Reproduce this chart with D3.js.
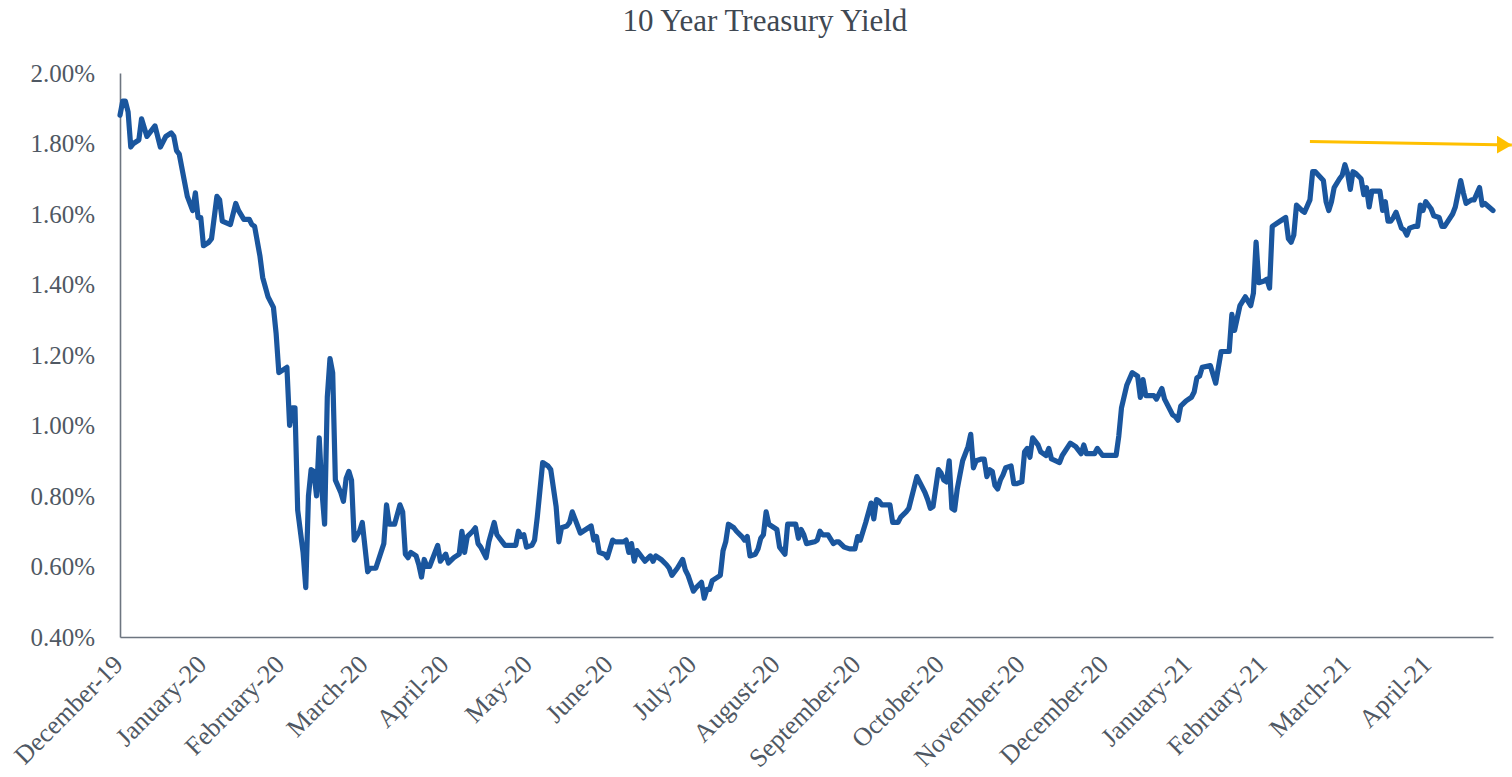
<!DOCTYPE html>
<html lang="en">
<head>
<meta charset="UTF-8">
<title>10 Year Treasury Yield</title>
<script src="https://cdn.jsdelivr.net/npm/d3@7"></script>
<style>
	body { margin: 0; background: #fff; }
	svg { display: block; }
	.title {
		font-family: "Liberation Serif", "Times New Roman", serif;
		font-size: 31px;
		fill: #3f4852;
	}
	.axis text {
		font-family: "Liberation Serif", "Times New Roman", serif;
		fill: #4f5863;
	}
	.y-axis text { font-size: 25px; }
	.x-axis text { font-size: 26px; }
	.axis path.domain { stroke: #6d7580; stroke-width: 1.6; }
	.axis line { display: none; }
</style>
</head>
<body>
<div id="chart"></div>
<script>
	// daily 10y yield (%)
	var dates = [
		"2019-12-31",
		"2020-01-01","2020-01-02","2020-01-03","2020-01-04","2020-01-05","2020-01-07","2020-01-08","2020-01-10","2020-01-12","2020-01-13",
		"2020-01-15","2020-01-17","2020-01-19","2020-01-20","2020-01-21","2020-01-22","2020-01-24","2020-01-25","2020-01-27","2020-01-28",
		"2020-01-29","2020-01-30","2020-01-31",
		"2020-02-02","2020-02-03","2020-02-05","2020-02-06","2020-02-07","2020-02-10","2020-02-12","2020-02-13","2020-02-15","2020-02-17",
		"2020-02-18","2020-02-19","2020-02-21","2020-02-22","2020-02-24","2020-02-26","2020-02-27","2020-02-28",
		"2020-03-01","2020-03-02","2020-03-03","2020-03-04","2020-03-05","2020-03-06","2020-03-08","2020-03-09","2020-03-10","2020-03-11",
		"2020-03-12","2020-03-13","2020-03-14","2020-03-15","2020-03-16","2020-03-17","2020-03-18","2020-03-19","2020-03-20","2020-03-22",
		"2020-03-23","2020-03-24","2020-03-25","2020-03-26","2020-03-27","2020-03-29","2020-03-30",
		"2020-04-01","2020-04-02","2020-04-04","2020-04-07","2020-04-08","2020-04-09","2020-04-11","2020-04-13","2020-04-14","2020-04-15",
		"2020-04-16","2020-04-17","2020-04-19","2020-04-20","2020-04-21","2020-04-22","2020-04-23","2020-04-24","2020-04-27","2020-04-28","2020-04-30",
		"2020-05-01","2020-05-03","2020-05-05","2020-05-06","2020-05-07","2020-05-08","2020-05-10","2020-05-11","2020-05-12","2020-05-13",
		"2020-05-15","2020-05-16","2020-05-18","2020-05-19","2020-05-21","2020-05-22","2020-05-26","2020-05-27","2020-05-28","2020-05-29","2020-05-30",
		"2020-06-01","2020-06-02","2020-06-03","2020-06-05","2020-06-07","2020-06-08","2020-06-10","2020-06-11","2020-06-12","2020-06-14",
		"2020-06-15","2020-06-16","2020-06-17","2020-06-19","2020-06-21","2020-06-23","2020-06-24","2020-06-25","2020-06-26","2020-06-28","2020-06-29",
		"2020-07-01","2020-07-02","2020-07-05","2020-07-06","2020-07-07","2020-07-08","2020-07-09","2020-07-10","2020-07-11","2020-07-13",
		"2020-07-15","2020-07-16","2020-07-17","2020-07-19","2020-07-21","2020-07-22","2020-07-23","2020-07-25","2020-07-27","2020-07-28",
		"2020-07-29","2020-07-31",
		"2020-08-01","2020-08-03","2020-08-04","2020-08-05","2020-08-06","2020-08-07","2020-08-08","2020-08-10","2020-08-11","2020-08-12",
		"2020-08-13","2020-08-15","2020-08-16","2020-08-18","2020-08-19","2020-08-20","2020-08-21","2020-08-23","2020-08-24","2020-08-25",
		"2020-08-26","2020-08-27","2020-08-28","2020-08-29","2020-08-31",
		"2020-09-01","2020-09-03","2020-09-04","2020-09-07","2020-09-08","2020-09-09","2020-09-10","2020-09-11","2020-09-14","2020-09-15",
		"2020-09-16","2020-09-17","2020-09-19","2020-09-21","2020-09-22","2020-09-23","2020-09-25","2020-09-27","2020-09-29","2020-09-30",
		"2020-10-01","2020-10-03","2020-10-05","2020-10-06","2020-10-07","2020-10-08","2020-10-09","2020-10-12","2020-10-13","2020-10-15",
		"2020-10-16","2020-10-18","2020-10-19","2020-10-22","2020-10-23","2020-10-25","2020-10-26","2020-10-27","2020-10-28","2020-10-30","2020-10-31",
		"2020-11-01","2020-11-02","2020-11-03","2020-11-04","2020-11-05","2020-11-06","2020-11-07","2020-11-08","2020-11-10","2020-11-11",
		"2020-11-12","2020-11-13","2020-11-15","2020-11-16","2020-11-17","2020-11-18","2020-11-19","2020-11-20","2020-11-21","2020-11-22",
		"2020-11-23","2020-11-24","2020-11-26","2020-11-27","2020-11-28","2020-11-30",
		"2020-12-01","2020-12-02","2020-12-03","2020-12-04","2020-12-06","2020-12-07","2020-12-09","2020-12-10","2020-12-11","2020-12-14",
		"2020-12-15","2020-12-18","2020-12-20","2020-12-22","2020-12-23","2020-12-24","2020-12-27","2020-12-28","2020-12-30",
		"2021-01-04","2021-01-05","2021-01-06","2021-01-08","2021-01-10","2021-01-12","2021-01-13","2021-01-14","2021-01-15","2021-01-18",
		"2021-01-19","2021-01-21","2021-01-22","2021-01-25","2021-01-26","2021-01-27","2021-01-28","2021-01-30",
		"2021-02-01","2021-02-02","2021-02-03","2021-02-04","2021-02-05","2021-02-08","2021-02-10","2021-02-12","2021-02-15","2021-02-16",
		"2021-02-17","2021-02-19","2021-02-21","2021-02-23","2021-02-24","2021-02-25","2021-02-26","2021-02-28",
		"2021-03-01","2021-03-02","2021-03-03","2021-03-06","2021-03-08","2021-03-09","2021-03-10","2021-03-11","2021-03-12","2021-03-14",
		"2021-03-15","2021-03-17","2021-03-18","2021-03-19","2021-03-22","2021-03-23","2021-03-24","2021-03-25","2021-03-26","2021-03-28",
		"2021-03-29","2021-03-30","2021-03-31",
		"2021-04-01","2021-04-02","2021-04-03","2021-04-05","2021-04-06","2021-04-07","2021-04-08","2021-04-09","2021-04-12","2021-04-13",
		"2021-04-14","2021-04-15","2021-04-16","2021-04-17","2021-04-18","2021-04-20","2021-04-21","2021-04-22","2021-04-23","2021-04-25",
		"2021-04-26","2021-04-27","2021-04-28","2021-04-29",
		"2021-05-01","2021-05-02","2021-05-04","2021-05-05","2021-05-06","2021-05-09","2021-05-10","2021-05-12","2021-05-13","2021-05-14",
		"2021-05-16","2021-05-17","2021-05-19","2021-05-20","2021-05-21","2021-05-24"
	];

	var yields = [
		1.88,
		1.92,1.92,1.89,1.79,1.80,1.81,1.87,1.82,1.84,1.85,
		1.79,1.82,1.83,1.82,1.78,1.77,1.69,1.65,1.61,1.66,
		1.59,1.59,1.51,
		1.52,1.53,1.65,1.64,1.58,1.57,1.63,1.61,1.585,1.585,
		1.57,1.565,1.48,1.42,1.365,1.335,1.26,1.15,
		1.16,1.165,1.00,1.05,1.05,0.76,0.64,0.54,0.80,0.875,
		0.87,0.80,0.965,0.815,0.72,1.08,1.19,1.15,0.845,0.81,
		0.785,0.85,0.87,0.845,0.675,0.70,0.725,
		0.585,0.595,0.595,0.665,0.775,0.72,0.72,0.775,0.755,0.635,
		0.625,0.64,0.63,0.605,0.57,0.62,0.60,0.60,0.66,0.615,0.635,
		0.61,0.625,0.635,0.70,0.64,0.685,0.70,0.71,0.665,0.655,
		0.625,0.67,0.725,0.69,0.67,0.66,0.66,0.70,0.685,0.69,0.655,
		0.66,0.675,0.74,0.895,0.885,0.875,0.77,0.67,0.71,0.715,
		0.725,0.755,0.735,0.695,0.705,0.715,0.675,0.685,0.64,0.635,0.625,
		0.675,0.67,0.67,0.675,0.64,0.665,0.615,0.645,0.635,0.615,
		0.63,0.615,0.63,0.62,0.605,0.595,0.575,0.595,0.62,0.59,
		0.575,0.53,
		0.54,0.555,0.51,0.535,0.535,0.56,0.565,0.575,0.645,0.67,
		0.72,0.71,0.70,0.685,0.675,0.685,0.63,0.635,0.65,0.68,
		0.69,0.755,0.72,0.715,0.705,
		0.655,0.635,0.72,0.72,0.68,0.705,0.69,0.665,0.67,0.675,
		0.70,0.69,0.69,0.665,0.67,0.67,0.655,0.65,0.65,0.685,
		0.675,0.725,0.78,0.735,0.79,0.785,0.775,0.775,0.725,0.725,
		0.74,0.755,0.765,0.855,0.84,0.81,0.79,0.765,0.77,0.875,0.865,
		0.845,0.84,0.90,0.765,0.76,0.82,0.86,0.90,0.94,0.975,
		0.88,0.90,0.905,0.905,0.855,0.875,0.87,0.83,0.82,0.845,
		0.86,0.88,0.885,0.835,0.835,0.84,
		0.925,0.935,0.91,0.965,0.945,0.925,0.915,0.935,0.905,0.895,
		0.915,0.95,0.94,0.92,0.945,0.92,0.92,0.935,0.915,
		0.915,0.97,1.05,1.115,1.15,1.14,1.08,1.13,1.085,1.085,
		1.075,1.105,1.075,1.03,1.025,1.015,1.055,1.07,
		1.08,1.095,1.135,1.14,1.165,1.17,1.12,1.21,1.21,1.315,
		1.27,1.34,1.365,1.34,1.375,1.52,1.405,1.41,
		1.415,1.39,1.565,1.58,1.59,1.53,1.52,1.54,1.625,1.61,
		1.605,1.64,1.72,1.72,1.695,1.635,1.61,1.635,1.675,1.70,
		1.71,1.74,1.715,
		1.67,1.72,1.715,1.70,1.655,1.675,1.62,1.665,1.665,1.61,
		1.635,1.58,1.58,1.59,1.605,1.56,1.555,1.54,1.56,1.565,
		1.565,1.625,1.61,1.635,
		1.615,1.595,1.59,1.565,1.565,1.60,1.62,1.695,1.66,1.63,
		1.64,1.64,1.675,1.625,1.63,1.61
	];

	// month labels sit on month ends
	var monthTicks = [
		"2019-12-31","2020-01-31","2020-02-29","2020-03-31","2020-04-30","2020-05-31","2020-06-30","2020-07-31","2020-08-31",
		"2020-09-30","2020-10-31","2020-11-30","2020-12-31","2021-01-31","2021-02-28","2021-03-31","2021-04-30"
	];
	var yTicks = [0.4, 0.6, 0.8, 1.0, 1.2, 1.4, 1.6, 1.8, 2.0];

	// flat "range" arrow annotation
	var arrowDates = ["2021-03-17", "2021-05-31"];
	var arrowYields = [1.806, 1.796];

	var width = 1512, height = 777;
	var plotLeft = 120, plotRight = 1493, plotTop = 73, plotBottom = 637;

	var parse = d3.timeParse("%Y-%m-%d");
	var series = dates.map(function(d, i) { return { date: parse(d), value: yields[i] }; });

	var svg = d3.select("#chart").append("svg")
		.attr("width", width)
		.attr("height", height);

	var x = d3.scaleTime()
		.domain([parse(dates[0]), parse(dates[dates.length - 1])])
		.range([plotLeft, plotRight]);

	var y = d3.scaleLinear()
		.domain([0.4, 2.0])
		.range([plotBottom, plotTop]);

	svg.append("text")
		.attr("class", "title")
		.attr("x", 765)
		.attr("y", 31)
		.attr("text-anchor", "middle")
		.text("10 Year Treasury Yield");

	var yAxis = svg.append("g")
		.attr("class", "axis y-axis")
		.attr("transform", "translate(" + plotLeft + ",0)")
		.call(d3.axisLeft(y)
			.tickValues(yTicks)
			.tickFormat(function(d) { return d.toFixed(2) + "%"; })
			.tickSize(0)
			.tickSizeOuter(0)
			.tickPadding(25));

	var xAxis = svg.append("g")
		.attr("class", "axis x-axis")
		.attr("transform", "translate(0," + plotBottom + ")")
		.call(d3.axisBottom(x)
			.tickValues(monthTicks.map(parse))
			.tickFormat(d3.timeFormat("%B-%y"))
			.tickSize(0)
			.tickSizeOuter(0));

	xAxis.selectAll("text")
		.attr("x", 0)
		.attr("y", 0)
		.attr("dy", 0)
		.attr("text-anchor", "end")
		.attr("transform", "translate(4,29) rotate(-45)");

	var line = d3.line()
		.x(function(d) { return x(d.date); })
		.y(function(d) { return y(d.value); });

	svg.append("path")
		.datum(series)
		.attr("fill", "none")
		.attr("stroke", "#1a569e")
		.attr("stroke-width", 5.2)
		.attr("stroke-linejoin", "round")
		.attr("stroke-linecap", "round")
		.attr("d", line);

	svg.append("defs").append("marker")
		.attr("id", "arrowhead")
		.attr("markerUnits", "userSpaceOnUse")
		.attr("markerWidth", 16)
		.attr("markerHeight", 18)
		.attr("refX", 15)
		.attr("refY", 9)
		.attr("orient", "auto")
		.append("path")
		.attr("d", "M0,0 L15,9 L0,18 Z")
		.attr("fill", "#ffc000");

	var arrow = arrowDates.map(function(d, i) { return { date: parse(d), value: arrowYields[i] }; });
	svg.append("path")
		.datum(arrow)
		.attr("fill", "none")
		.attr("stroke", "#ffc000")
		.attr("stroke-width", 3)
		.attr("marker-end", "url(#arrowhead)")
		.attr("d", line);
</script>
</body>
</html>
